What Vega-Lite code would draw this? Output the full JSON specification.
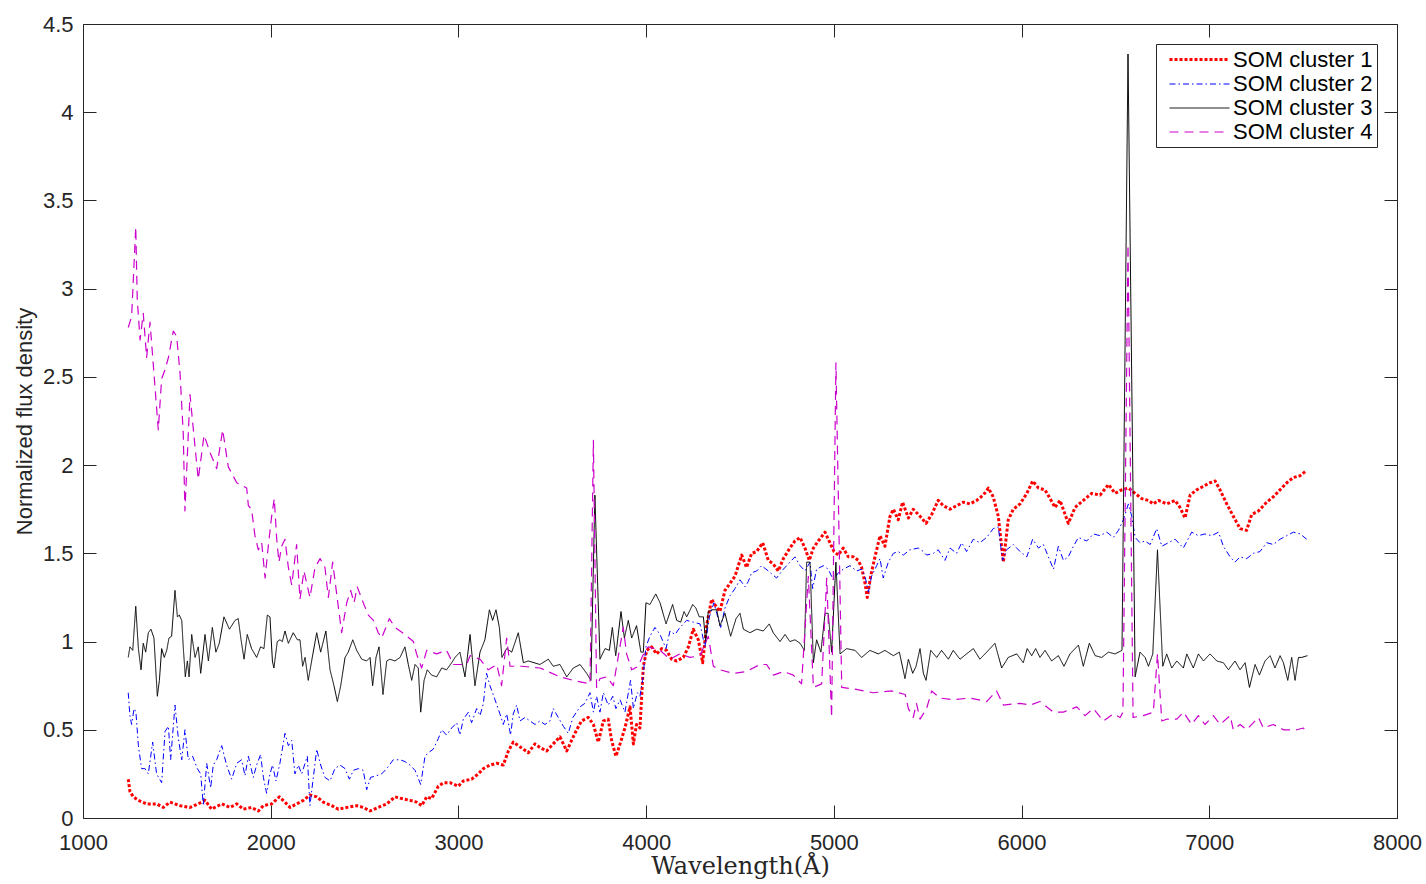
{
"$schema":"https://vega.github.io/schema/vega-lite/v6.json",
"width":1314,"height":794,
"autosize":{"type":"none"},
"padding":{"left":83,"top":24,"right":29,"bottom":66},
"background":"white",
"config":{
 "view":{"stroke":null},
 "axis":{"grid":false,"domainColor":"#262626","tickColor":"#262626","labelColor":"#262626","labelFont":"Liberation Sans","labelFontSize":22,"titleColor":"#262626","titleFontWeight":"normal","labelFlush":false,"tickSize":-13,"domainWidth":1,"tickWidth":1},
 "legend":{"orient":"top-right","offset":20,"padding":4,"strokeColor":"#262626","fillColor":"white","labelFont":"Liberation Sans","labelFontSize":22,"labelColor":"black","symbolType":"M-3,0H3","symbolSize":400,"symbolOffset":28,"labelOffset":22,"rowPadding":2,"labelLimit":300}
},
"data":{"values":[
{"s":"SOM cluster 1","w":1241,"f":0.22},{"s":"SOM cluster 1","w":1250,"f":0.15},{"s":"SOM cluster 1","w":1268,"f":0.12},{"s":"SOM cluster 1","w":1295,"f":0.1},{"s":"SOM cluster 1","w":1339,"f":0.08},{"s":"SOM cluster 1","w":1392,"f":0.08},{"s":"SOM cluster 1","w":1428,"f":0.06},{"s":"SOM cluster 1","w":1463,"f":0.09},{"s":"SOM cluster 1","w":1517,"f":0.07},{"s":"SOM cluster 1","w":1570,"f":0.06},{"s":"SOM cluster 1","w":1614,"f":0.08},{"s":"SOM cluster 1","w":1650,"f":0.1},{"s":"SOM cluster 1","w":1685,"f":0.05},{"s":"SOM cluster 1","w":1739,"f":0.08},{"s":"SOM cluster 1","w":1783,"f":0.06},{"s":"SOM cluster 1","w":1819,"f":0.08},{"s":"SOM cluster 1","w":1854,"f":0.05},{"s":"SOM cluster 1","w":1898,"f":0.06},{"s":"SOM cluster 1","w":1934,"f":0.04},{"s":"SOM cluster 1","w":1961,"f":0.07},{"s":"SOM cluster 1","w":2005,"f":0.08},{"s":"SOM cluster 1","w":2046,"f":0.12},{"s":"SOM cluster 1","w":2076,"f":0.09},{"s":"SOM cluster 1","w":2103,"f":0.06},{"s":"SOM cluster 1","w":2138,"f":0.08},{"s":"SOM cluster 1","w":2174,"f":0.1},{"s":"SOM cluster 1","w":2209,"f":0.13},{"s":"SOM cluster 1","w":2245,"f":0.12},{"s":"SOM cluster 1","w":2280,"f":0.09},{"s":"SOM cluster 1","w":2325,"f":0.07},{"s":"SOM cluster 1","w":2360,"f":0.05},{"s":"SOM cluster 1","w":2405,"f":0.06},{"s":"SOM cluster 1","w":2458,"f":0.07},{"s":"SOM cluster 1","w":2493,"f":0.06},{"s":"SOM cluster 1","w":2529,"f":0.04},{"s":"SOM cluster 1","w":2573,"f":0.06},{"s":"SOM cluster 1","w":2618,"f":0.08},{"s":"SOM cluster 1","w":2662,"f":0.12},{"s":"SOM cluster 1","w":2698,"f":0.11},{"s":"SOM cluster 1","w":2742,"f":0.1},{"s":"SOM cluster 1","w":2777,"f":0.09},{"s":"SOM cluster 1","w":2804,"f":0.07},{"s":"SOM cluster 1","w":2831,"f":0.12},{"s":"SOM cluster 1","w":2857,"f":0.11},{"s":"SOM cluster 1","w":2893,"f":0.18},{"s":"SOM cluster 1","w":2920,"f":0.2},{"s":"SOM cluster 1","w":2955,"f":0.2},{"s":"SOM cluster 1","w":2999,"f":0.18},{"s":"SOM cluster 1","w":3026,"f":0.21},{"s":"SOM cluster 1","w":3070,"f":0.22},{"s":"SOM cluster 1","w":3106,"f":0.25},{"s":"SOM cluster 1","w":3133,"f":0.28},{"s":"SOM cluster 1","w":3168,"f":0.3},{"s":"SOM cluster 1","w":3204,"f":0.31},{"s":"SOM cluster 1","w":3239,"f":0.3},{"s":"SOM cluster 1","w":3266,"f":0.38},{"s":"SOM cluster 1","w":3292,"f":0.43},{"s":"SOM cluster 1","w":3319,"f":0.41},{"s":"SOM cluster 1","w":3346,"f":0.39},{"s":"SOM cluster 1","w":3372,"f":0.37},{"s":"SOM cluster 1","w":3408,"f":0.42},{"s":"SOM cluster 1","w":3434,"f":0.4},{"s":"SOM cluster 1","w":3470,"f":0.38},{"s":"SOM cluster 1","w":3505,"f":0.42},{"s":"SOM cluster 1","w":3541,"f":0.46},{"s":"SOM cluster 1","w":3577,"f":0.38},{"s":"SOM cluster 1","w":3603,"f":0.44},{"s":"SOM cluster 1","w":3630,"f":0.5},{"s":"SOM cluster 1","w":3656,"f":0.55},{"s":"SOM cluster 1","w":3692,"f":0.57},{"s":"SOM cluster 1","w":3719,"f":0.53},{"s":"SOM cluster 1","w":3745,"f":0.43},{"s":"SOM cluster 1","w":3772,"f":0.55},{"s":"SOM cluster 1","w":3798,"f":0.56},{"s":"SOM cluster 1","w":3816,"f":0.44},{"s":"SOM cluster 1","w":3839,"f":0.35},{"s":"SOM cluster 1","w":3861,"f":0.42},{"s":"SOM cluster 1","w":3887,"f":0.51},{"s":"SOM cluster 1","w":3914,"f":0.63},{"s":"SOM cluster 1","w":3932,"f":0.42},{"s":"SOM cluster 1","w":3949,"f":0.53},{"s":"SOM cluster 1","w":3967,"f":0.51},{"s":"SOM cluster 1","w":3985,"f":0.86},{"s":"SOM cluster 1","w":4003,"f":0.95},{"s":"SOM cluster 1","w":4029,"f":0.97},{"s":"SOM cluster 1","w":4056,"f":0.93},{"s":"SOM cluster 1","w":4083,"f":0.96},{"s":"SOM cluster 1","w":4109,"f":0.95},{"s":"SOM cluster 1","w":4136,"f":0.9},{"s":"SOM cluster 1","w":4163,"f":0.89},{"s":"SOM cluster 1","w":4198,"f":0.91},{"s":"SOM cluster 1","w":4225,"f":0.97},{"s":"SOM cluster 1","w":4251,"f":1.07},{"s":"SOM cluster 1","w":4278,"f":1.01},{"s":"SOM cluster 1","w":4301,"f":0.88},{"s":"SOM cluster 1","w":4322,"f":1.09},{"s":"SOM cluster 1","w":4349,"f":1.24},{"s":"SOM cluster 1","w":4372,"f":1.2},{"s":"SOM cluster 1","w":4393,"f":1.17},{"s":"SOM cluster 1","w":4420,"f":1.29},{"s":"SOM cluster 1","w":4447,"f":1.33},{"s":"SOM cluster 1","w":4473,"f":1.37},{"s":"SOM cluster 1","w":4509,"f":1.49},{"s":"SOM cluster 1","w":4535,"f":1.42},{"s":"SOM cluster 1","w":4562,"f":1.5},{"s":"SOM cluster 1","w":4589,"f":1.51},{"s":"SOM cluster 1","w":4621,"f":1.56},{"s":"SOM cluster 1","w":4651,"f":1.46},{"s":"SOM cluster 1","w":4677,"f":1.44},{"s":"SOM cluster 1","w":4704,"f":1.4},{"s":"SOM cluster 1","w":4731,"f":1.47},{"s":"SOM cluster 1","w":4766,"f":1.53},{"s":"SOM cluster 1","w":4793,"f":1.57},{"s":"SOM cluster 1","w":4820,"f":1.59},{"s":"SOM cluster 1","w":4846,"f":1.53},{"s":"SOM cluster 1","w":4869,"f":1.46},{"s":"SOM cluster 1","w":4891,"f":1.53},{"s":"SOM cluster 1","w":4917,"f":1.57},{"s":"SOM cluster 1","w":4953,"f":1.62},{"s":"SOM cluster 1","w":4979,"f":1.56},{"s":"SOM cluster 1","w":5001,"f":1.51},{"s":"SOM cluster 1","w":5024,"f":1.49},{"s":"SOM cluster 1","w":5050,"f":1.53},{"s":"SOM cluster 1","w":5077,"f":1.48},{"s":"SOM cluster 1","w":5104,"f":1.48},{"s":"SOM cluster 1","w":5130,"f":1.46},{"s":"SOM cluster 1","w":5148,"f":1.42},{"s":"SOM cluster 1","w":5166,"f":1.33},{"s":"SOM cluster 1","w":5178,"f":1.25},{"s":"SOM cluster 1","w":5196,"f":1.37},{"s":"SOM cluster 1","w":5219,"f":1.48},{"s":"SOM cluster 1","w":5246,"f":1.6},{"s":"SOM cluster 1","w":5272,"f":1.54},{"s":"SOM cluster 1","w":5299,"f":1.71},{"s":"SOM cluster 1","w":5317,"f":1.75},{"s":"SOM cluster 1","w":5343,"f":1.69},{"s":"SOM cluster 1","w":5366,"f":1.79},{"s":"SOM cluster 1","w":5397,"f":1.7},{"s":"SOM cluster 1","w":5423,"f":1.75},{"s":"SOM cluster 1","w":5459,"f":1.71},{"s":"SOM cluster 1","w":5491,"f":1.67},{"s":"SOM cluster 1","w":5521,"f":1.72},{"s":"SOM cluster 1","w":5556,"f":1.8},{"s":"SOM cluster 1","w":5583,"f":1.77},{"s":"SOM cluster 1","w":5619,"f":1.75},{"s":"SOM cluster 1","w":5654,"f":1.77},{"s":"SOM cluster 1","w":5690,"f":1.79},{"s":"SOM cluster 1","w":5725,"f":1.78},{"s":"SOM cluster 1","w":5761,"f":1.8},{"s":"SOM cluster 1","w":5796,"f":1.83},{"s":"SOM cluster 1","w":5823,"f":1.87},{"s":"SOM cluster 1","w":5849,"f":1.82},{"s":"SOM cluster 1","w":5876,"f":1.71},{"s":"SOM cluster 1","w":5903,"f":1.45},{"s":"SOM cluster 1","w":5929,"f":1.69},{"s":"SOM cluster 1","w":5956,"f":1.75},{"s":"SOM cluster 1","w":5992,"f":1.78},{"s":"SOM cluster 1","w":6028,"f":1.84},{"s":"SOM cluster 1","w":6059,"f":1.91},{"s":"SOM cluster 1","w":6090,"f":1.87},{"s":"SOM cluster 1","w":6125,"f":1.86},{"s":"SOM cluster 1","w":6152,"f":1.81},{"s":"SOM cluster 1","w":6178,"f":1.76},{"s":"SOM cluster 1","w":6205,"f":1.8},{"s":"SOM cluster 1","w":6249,"f":1.67},{"s":"SOM cluster 1","w":6285,"f":1.76},{"s":"SOM cluster 1","w":6329,"f":1.8},{"s":"SOM cluster 1","w":6374,"f":1.84},{"s":"SOM cluster 1","w":6418,"f":1.83},{"s":"SOM cluster 1","w":6463,"f":1.89},{"s":"SOM cluster 1","w":6498,"f":1.84},{"s":"SOM cluster 1","w":6534,"f":1.86},{"s":"SOM cluster 1","w":6569,"f":1.87},{"s":"SOM cluster 1","w":6605,"f":1.84},{"s":"SOM cluster 1","w":6640,"f":1.81},{"s":"SOM cluster 1","w":6676,"f":1.8},{"s":"SOM cluster 1","w":6702,"f":1.78},{"s":"SOM cluster 1","w":6729,"f":1.8},{"s":"SOM cluster 1","w":6773,"f":1.78},{"s":"SOM cluster 1","w":6818,"f":1.8},{"s":"SOM cluster 1","w":6844,"f":1.76},{"s":"SOM cluster 1","w":6871,"f":1.7},{"s":"SOM cluster 1","w":6898,"f":1.83},{"s":"SOM cluster 1","w":6933,"f":1.86},{"s":"SOM cluster 1","w":6969,"f":1.88},{"s":"SOM cluster 1","w":7004,"f":1.9},{"s":"SOM cluster 1","w":7031,"f":1.91},{"s":"SOM cluster 1","w":7057,"f":1.86},{"s":"SOM cluster 1","w":7093,"f":1.78},{"s":"SOM cluster 1","w":7128,"f":1.71},{"s":"SOM cluster 1","w":7164,"f":1.64},{"s":"SOM cluster 1","w":7199,"f":1.63},{"s":"SOM cluster 1","w":7226,"f":1.72},{"s":"SOM cluster 1","w":7262,"f":1.74},{"s":"SOM cluster 1","w":7306,"f":1.79},{"s":"SOM cluster 1","w":7341,"f":1.82},{"s":"SOM cluster 1","w":7377,"f":1.86},{"s":"SOM cluster 1","w":7413,"f":1.9},{"s":"SOM cluster 1","w":7448,"f":1.93},{"s":"SOM cluster 1","w":7484,"f":1.94},{"s":"SOM cluster 1","w":7519,"f":1.97},
{"s":"SOM cluster 2","w":1241,"f":0.71},{"s":"SOM cluster 2","w":1250,"f":0.58},{"s":"SOM cluster 2","w":1259,"f":0.53},{"s":"SOM cluster 2","w":1272,"f":0.62},{"s":"SOM cluster 2","w":1282,"f":0.6},{"s":"SOM cluster 2","w":1295,"f":0.41},{"s":"SOM cluster 2","w":1312,"f":0.28},{"s":"SOM cluster 2","w":1330,"f":0.28},{"s":"SOM cluster 2","w":1348,"f":0.25},{"s":"SOM cluster 2","w":1371,"f":0.43},{"s":"SOM cluster 2","w":1392,"f":0.25},{"s":"SOM cluster 2","w":1419,"f":0.2},{"s":"SOM cluster 2","w":1437,"f":0.49},{"s":"SOM cluster 2","w":1455,"f":0.52},{"s":"SOM cluster 2","w":1467,"f":0.33},{"s":"SOM cluster 2","w":1490,"f":0.64},{"s":"SOM cluster 2","w":1508,"f":0.45},{"s":"SOM cluster 2","w":1526,"f":0.33},{"s":"SOM cluster 2","w":1543,"f":0.5},{"s":"SOM cluster 2","w":1561,"f":0.33},{"s":"SOM cluster 2","w":1584,"f":0.35},{"s":"SOM cluster 2","w":1609,"f":0.28},{"s":"SOM cluster 2","w":1627,"f":0.25},{"s":"SOM cluster 2","w":1641,"f":0.07},{"s":"SOM cluster 2","w":1659,"f":0.31},{"s":"SOM cluster 2","w":1680,"f":0.17},{"s":"SOM cluster 2","w":1694,"f":0.3},{"s":"SOM cluster 2","w":1712,"f":0.33},{"s":"SOM cluster 2","w":1739,"f":0.41},{"s":"SOM cluster 2","w":1765,"f":0.3},{"s":"SOM cluster 2","w":1792,"f":0.22},{"s":"SOM cluster 2","w":1819,"f":0.31},{"s":"SOM cluster 2","w":1845,"f":0.33},{"s":"SOM cluster 2","w":1863,"f":0.24},{"s":"SOM cluster 2","w":1881,"f":0.35},{"s":"SOM cluster 2","w":1907,"f":0.23},{"s":"SOM cluster 2","w":1925,"f":0.3},{"s":"SOM cluster 2","w":1946,"f":0.36},{"s":"SOM cluster 2","w":1961,"f":0.23},{"s":"SOM cluster 2","w":1978,"f":0.14},{"s":"SOM cluster 2","w":1996,"f":0.25},{"s":"SOM cluster 2","w":2010,"f":0.3},{"s":"SOM cluster 2","w":2028,"f":0.21},{"s":"SOM cluster 2","w":2049,"f":0.31},{"s":"SOM cluster 2","w":2076,"f":0.48},{"s":"SOM cluster 2","w":2094,"f":0.41},{"s":"SOM cluster 2","w":2112,"f":0.44},{"s":"SOM cluster 2","w":2129,"f":0.25},{"s":"SOM cluster 2","w":2147,"f":0.3},{"s":"SOM cluster 2","w":2165,"f":0.25},{"s":"SOM cluster 2","w":2183,"f":0.31},{"s":"SOM cluster 2","w":2195,"f":0.35},{"s":"SOM cluster 2","w":2209,"f":0.07},{"s":"SOM cluster 2","w":2227,"f":0.23},{"s":"SOM cluster 2","w":2245,"f":0.39},{"s":"SOM cluster 2","w":2263,"f":0.31},{"s":"SOM cluster 2","w":2289,"f":0.23},{"s":"SOM cluster 2","w":2316,"f":0.21},{"s":"SOM cluster 2","w":2342,"f":0.28},{"s":"SOM cluster 2","w":2369,"f":0.3},{"s":"SOM cluster 2","w":2396,"f":0.28},{"s":"SOM cluster 2","w":2419,"f":0.22},{"s":"SOM cluster 2","w":2440,"f":0.27},{"s":"SOM cluster 2","w":2467,"f":0.28},{"s":"SOM cluster 2","w":2493,"f":0.27},{"s":"SOM cluster 2","w":2511,"f":0.16},{"s":"SOM cluster 2","w":2532,"f":0.23},{"s":"SOM cluster 2","w":2564,"f":0.24},{"s":"SOM cluster 2","w":2591,"f":0.25},{"s":"SOM cluster 2","w":2618,"f":0.28},{"s":"SOM cluster 2","w":2653,"f":0.33},{"s":"SOM cluster 2","w":2689,"f":0.33},{"s":"SOM cluster 2","w":2715,"f":0.32},{"s":"SOM cluster 2","w":2742,"f":0.3},{"s":"SOM cluster 2","w":2769,"f":0.27},{"s":"SOM cluster 2","w":2799,"f":0.19},{"s":"SOM cluster 2","w":2822,"f":0.35},{"s":"SOM cluster 2","w":2840,"f":0.37},{"s":"SOM cluster 2","w":2866,"f":0.39},{"s":"SOM cluster 2","w":2893,"f":0.45},{"s":"SOM cluster 2","w":2911,"f":0.5},{"s":"SOM cluster 2","w":2937,"f":0.47},{"s":"SOM cluster 2","w":2964,"f":0.51},{"s":"SOM cluster 2","w":2991,"f":0.54},{"s":"SOM cluster 2","w":3008,"f":0.47},{"s":"SOM cluster 2","w":3026,"f":0.56},{"s":"SOM cluster 2","w":3053,"f":0.6},{"s":"SOM cluster 2","w":3070,"f":0.54},{"s":"SOM cluster 2","w":3097,"f":0.62},{"s":"SOM cluster 2","w":3115,"f":0.58},{"s":"SOM cluster 2","w":3133,"f":0.65},{"s":"SOM cluster 2","w":3150,"f":0.82},{"s":"SOM cluster 2","w":3168,"f":0.75},{"s":"SOM cluster 2","w":3195,"f":0.67},{"s":"SOM cluster 2","w":3221,"f":0.59},{"s":"SOM cluster 2","w":3239,"f":0.53},{"s":"SOM cluster 2","w":3257,"f":0.59},{"s":"SOM cluster 2","w":3278,"f":0.47},{"s":"SOM cluster 2","w":3292,"f":0.59},{"s":"SOM cluster 2","w":3310,"f":0.64},{"s":"SOM cluster 2","w":3328,"f":0.55},{"s":"SOM cluster 2","w":3355,"f":0.57},{"s":"SOM cluster 2","w":3381,"f":0.55},{"s":"SOM cluster 2","w":3408,"f":0.53},{"s":"SOM cluster 2","w":3434,"f":0.55},{"s":"SOM cluster 2","w":3461,"f":0.53},{"s":"SOM cluster 2","w":3488,"f":0.55},{"s":"SOM cluster 2","w":3505,"f":0.62},{"s":"SOM cluster 2","w":3532,"f":0.57},{"s":"SOM cluster 2","w":3559,"f":0.52},{"s":"SOM cluster 2","w":3585,"f":0.48},{"s":"SOM cluster 2","w":3610,"f":0.57},{"s":"SOM cluster 2","w":3648,"f":0.63},{"s":"SOM cluster 2","w":3674,"f":0.65},{"s":"SOM cluster 2","w":3701,"f":0.71},{"s":"SOM cluster 2","w":3719,"f":0.6},{"s":"SOM cluster 2","w":3736,"f":0.69},{"s":"SOM cluster 2","w":3754,"f":0.6},{"s":"SOM cluster 2","w":3772,"f":0.71},{"s":"SOM cluster 2","w":3798,"f":0.64},{"s":"SOM cluster 2","w":3822,"f":0.69},{"s":"SOM cluster 2","w":3839,"f":0.62},{"s":"SOM cluster 2","w":3861,"f":0.67},{"s":"SOM cluster 2","w":3887,"f":0.6},{"s":"SOM cluster 2","w":3917,"f":0.78},{"s":"SOM cluster 2","w":3932,"f":0.62},{"s":"SOM cluster 2","w":3953,"f":0.71},{"s":"SOM cluster 2","w":3967,"f":0.69},{"s":"SOM cluster 2","w":3981,"f":0.78},{"s":"SOM cluster 2","w":3999,"f":0.97},{"s":"SOM cluster 2","w":4020,"f":1.03},{"s":"SOM cluster 2","w":4047,"f":1.08},{"s":"SOM cluster 2","w":4074,"f":1.04},{"s":"SOM cluster 2","w":4106,"f":0.96},{"s":"SOM cluster 2","w":4127,"f":1.06},{"s":"SOM cluster 2","w":4154,"f":1.04},{"s":"SOM cluster 2","w":4180,"f":1.08},{"s":"SOM cluster 2","w":4216,"f":1.12},{"s":"SOM cluster 2","w":4251,"f":1.11},{"s":"SOM cluster 2","w":4287,"f":1.1},{"s":"SOM cluster 2","w":4313,"f":0.97},{"s":"SOM cluster 2","w":4337,"f":1.14},{"s":"SOM cluster 2","w":4361,"f":1.22},{"s":"SOM cluster 2","w":4376,"f":1.16},{"s":"SOM cluster 2","w":4397,"f":1.08},{"s":"SOM cluster 2","w":4420,"f":1.19},{"s":"SOM cluster 2","w":4447,"f":1.26},{"s":"SOM cluster 2","w":4473,"f":1.3},{"s":"SOM cluster 2","w":4500,"f":1.35},{"s":"SOM cluster 2","w":4527,"f":1.31},{"s":"SOM cluster 2","w":4544,"f":1.34},{"s":"SOM cluster 2","w":4562,"f":1.39},{"s":"SOM cluster 2","w":4589,"f":1.4},{"s":"SOM cluster 2","w":4615,"f":1.43},{"s":"SOM cluster 2","w":4651,"f":1.4},{"s":"SOM cluster 2","w":4695,"f":1.36},{"s":"SOM cluster 2","w":4731,"f":1.41},{"s":"SOM cluster 2","w":4766,"f":1.45},{"s":"SOM cluster 2","w":4793,"f":1.48},{"s":"SOM cluster 2","w":4820,"f":1.43},{"s":"SOM cluster 2","w":4846,"f":1.4},{"s":"SOM cluster 2","w":4873,"f":1.45},{"s":"SOM cluster 2","w":4887,"f":1.3},{"s":"SOM cluster 2","w":4908,"f":1.41},{"s":"SOM cluster 2","w":4944,"f":1.43},{"s":"SOM cluster 2","w":4970,"f":1.41},{"s":"SOM cluster 2","w":4997,"f":1.35},{"s":"SOM cluster 2","w":5024,"f":1.39},{"s":"SOM cluster 2","w":5050,"f":1.41},{"s":"SOM cluster 2","w":5086,"f":1.43},{"s":"SOM cluster 2","w":5121,"f":1.4},{"s":"SOM cluster 2","w":5148,"f":1.41},{"s":"SOM cluster 2","w":5166,"f":1.37},{"s":"SOM cluster 2","w":5184,"f":1.28},{"s":"SOM cluster 2","w":5201,"f":1.37},{"s":"SOM cluster 2","w":5228,"f":1.43},{"s":"SOM cluster 2","w":5246,"f":1.47},{"s":"SOM cluster 2","w":5263,"f":1.36},{"s":"SOM cluster 2","w":5290,"f":1.45},{"s":"SOM cluster 2","w":5317,"f":1.5},{"s":"SOM cluster 2","w":5343,"f":1.51},{"s":"SOM cluster 2","w":5370,"f":1.49},{"s":"SOM cluster 2","w":5405,"f":1.52},{"s":"SOM cluster 2","w":5450,"f":1.53},{"s":"SOM cluster 2","w":5477,"f":1.51},{"s":"SOM cluster 2","w":5494,"f":1.49},{"s":"SOM cluster 2","w":5530,"f":1.5},{"s":"SOM cluster 2","w":5556,"f":1.52},{"s":"SOM cluster 2","w":5592,"f":1.46},{"s":"SOM cluster 2","w":5619,"f":1.53},{"s":"SOM cluster 2","w":5654,"f":1.5},{"s":"SOM cluster 2","w":5681,"f":1.56},{"s":"SOM cluster 2","w":5707,"f":1.51},{"s":"SOM cluster 2","w":5743,"f":1.58},{"s":"SOM cluster 2","w":5778,"f":1.56},{"s":"SOM cluster 2","w":5814,"f":1.59},{"s":"SOM cluster 2","w":5849,"f":1.64},{"s":"SOM cluster 2","w":5876,"f":1.65},{"s":"SOM cluster 2","w":5899,"f":1.46},{"s":"SOM cluster 2","w":5920,"f":1.52},{"s":"SOM cluster 2","w":5956,"f":1.55},{"s":"SOM cluster 2","w":5992,"f":1.51},{"s":"SOM cluster 2","w":6028,"f":1.48},{"s":"SOM cluster 2","w":6059,"f":1.58},{"s":"SOM cluster 2","w":6090,"f":1.53},{"s":"SOM cluster 2","w":6116,"f":1.55},{"s":"SOM cluster 2","w":6143,"f":1.48},{"s":"SOM cluster 2","w":6170,"f":1.41},{"s":"SOM cluster 2","w":6196,"f":1.54},{"s":"SOM cluster 2","w":6223,"f":1.46},{"s":"SOM cluster 2","w":6249,"f":1.48},{"s":"SOM cluster 2","w":6276,"f":1.54},{"s":"SOM cluster 2","w":6303,"f":1.59},{"s":"SOM cluster 2","w":6347,"f":1.57},{"s":"SOM cluster 2","w":6383,"f":1.61},{"s":"SOM cluster 2","w":6418,"f":1.6},{"s":"SOM cluster 2","w":6454,"f":1.62},{"s":"SOM cluster 2","w":6489,"f":1.59},{"s":"SOM cluster 2","w":6516,"f":1.63},{"s":"SOM cluster 2","w":6542,"f":1.69},{"s":"SOM cluster 2","w":6569,"f":1.78},{"s":"SOM cluster 2","w":6587,"f":1.71},{"s":"SOM cluster 2","w":6605,"f":1.59},{"s":"SOM cluster 2","w":6631,"f":1.56},{"s":"SOM cluster 2","w":6658,"f":1.57},{"s":"SOM cluster 2","w":6685,"f":1.55},{"s":"SOM cluster 2","w":6720,"f":1.64},{"s":"SOM cluster 2","w":6747,"f":1.54},{"s":"SOM cluster 2","w":6782,"f":1.56},{"s":"SOM cluster 2","w":6818,"f":1.58},{"s":"SOM cluster 2","w":6862,"f":1.53},{"s":"SOM cluster 2","w":6906,"f":1.62},{"s":"SOM cluster 2","w":6942,"f":1.6},{"s":"SOM cluster 2","w":6977,"f":1.61},{"s":"SOM cluster 2","w":7013,"f":1.6},{"s":"SOM cluster 2","w":7049,"f":1.62},{"s":"SOM cluster 2","w":7075,"f":1.54},{"s":"SOM cluster 2","w":7111,"f":1.48},{"s":"SOM cluster 2","w":7137,"f":1.45},{"s":"SOM cluster 2","w":7164,"f":1.48},{"s":"SOM cluster 2","w":7199,"f":1.47},{"s":"SOM cluster 2","w":7235,"f":1.5},{"s":"SOM cluster 2","w":7270,"f":1.51},{"s":"SOM cluster 2","w":7306,"f":1.56},{"s":"SOM cluster 2","w":7341,"f":1.55},{"s":"SOM cluster 2","w":7377,"f":1.58},{"s":"SOM cluster 2","w":7413,"f":1.6},{"s":"SOM cluster 2","w":7448,"f":1.62},{"s":"SOM cluster 2","w":7484,"f":1.61},{"s":"SOM cluster 2","w":7519,"f":1.58},
{"s":"SOM cluster 3","w":1241,"f":0.91},{"s":"SOM cluster 3","w":1250,"f":0.97},{"s":"SOM cluster 3","w":1265,"f":0.95},{"s":"SOM cluster 3","w":1281,"f":1.2},{"s":"SOM cluster 3","w":1295,"f":0.96},{"s":"SOM cluster 3","w":1309,"f":0.84},{"s":"SOM cluster 3","w":1321,"f":0.99},{"s":"SOM cluster 3","w":1334,"f":0.94},{"s":"SOM cluster 3","w":1348,"f":1.05},{"s":"SOM cluster 3","w":1362,"f":1.07},{"s":"SOM cluster 3","w":1378,"f":1.02},{"s":"SOM cluster 3","w":1396,"f":0.69},{"s":"SOM cluster 3","w":1407,"f":0.78},{"s":"SOM cluster 3","w":1419,"f":0.96},{"s":"SOM cluster 3","w":1433,"f":0.91},{"s":"SOM cluster 3","w":1446,"f":0.95},{"s":"SOM cluster 3","w":1458,"f":1.02},{"s":"SOM cluster 3","w":1472,"f":1.03},{"s":"SOM cluster 3","w":1490,"f":1.29},{"s":"SOM cluster 3","w":1503,"f":1.14},{"s":"SOM cluster 3","w":1513,"f":1.15},{"s":"SOM cluster 3","w":1526,"f":1.12},{"s":"SOM cluster 3","w":1534,"f":0.97},{"s":"SOM cluster 3","w":1545,"f":0.8},{"s":"SOM cluster 3","w":1556,"f":0.89},{"s":"SOM cluster 3","w":1565,"f":0.8},{"s":"SOM cluster 3","w":1579,"f":1.04},{"s":"SOM cluster 3","w":1597,"f":0.91},{"s":"SOM cluster 3","w":1614,"f":0.97},{"s":"SOM cluster 3","w":1627,"f":0.82},{"s":"SOM cluster 3","w":1650,"f":1.04},{"s":"SOM cluster 3","w":1668,"f":0.89},{"s":"SOM cluster 3","w":1689,"f":1.08},{"s":"SOM cluster 3","w":1708,"f":0.94},{"s":"SOM cluster 3","w":1726,"f":0.99},{"s":"SOM cluster 3","w":1751,"f":1.14},{"s":"SOM cluster 3","w":1780,"f":1.07},{"s":"SOM cluster 3","w":1810,"f":1.12},{"s":"SOM cluster 3","w":1827,"f":1.13},{"s":"SOM cluster 3","w":1842,"f":1.01},{"s":"SOM cluster 3","w":1858,"f":0.9},{"s":"SOM cluster 3","w":1875,"f":1.04},{"s":"SOM cluster 3","w":1898,"f":0.96},{"s":"SOM cluster 3","w":1925,"f":0.91},{"s":"SOM cluster 3","w":1946,"f":0.97},{"s":"SOM cluster 3","w":1964,"f":0.96},{"s":"SOM cluster 3","w":1982,"f":1.15},{"s":"SOM cluster 3","w":1996,"f":1.14},{"s":"SOM cluster 3","w":2009,"f":0.89},{"s":"SOM cluster 3","w":2017,"f":0.85},{"s":"SOM cluster 3","w":2035,"f":1.0},{"s":"SOM cluster 3","w":2049,"f":1.01},{"s":"SOM cluster 3","w":2062,"f":1.0},{"s":"SOM cluster 3","w":2076,"f":1.06},{"s":"SOM cluster 3","w":2094,"f":0.99},{"s":"SOM cluster 3","w":2120,"f":1.05},{"s":"SOM cluster 3","w":2142,"f":1.01},{"s":"SOM cluster 3","w":2156,"f":1.01},{"s":"SOM cluster 3","w":2170,"f":0.86},{"s":"SOM cluster 3","w":2183,"f":0.91},{"s":"SOM cluster 3","w":2200,"f":0.78},{"s":"SOM cluster 3","w":2218,"f":0.89},{"s":"SOM cluster 3","w":2245,"f":1.05},{"s":"SOM cluster 3","w":2266,"f":0.94},{"s":"SOM cluster 3","w":2294,"f":1.06},{"s":"SOM cluster 3","w":2316,"f":0.84},{"s":"SOM cluster 3","w":2337,"f":0.75},{"s":"SOM cluster 3","w":2355,"f":0.66},{"s":"SOM cluster 3","w":2373,"f":0.75},{"s":"SOM cluster 3","w":2396,"f":0.91},{"s":"SOM cluster 3","w":2413,"f":0.94},{"s":"SOM cluster 3","w":2437,"f":1.01},{"s":"SOM cluster 3","w":2458,"f":0.95},{"s":"SOM cluster 3","w":2485,"f":0.9},{"s":"SOM cluster 3","w":2511,"f":0.89},{"s":"SOM cluster 3","w":2529,"f":0.91},{"s":"SOM cluster 3","w":2543,"f":0.75},{"s":"SOM cluster 3","w":2561,"f":0.91},{"s":"SOM cluster 3","w":2577,"f":0.97},{"s":"SOM cluster 3","w":2598,"f":0.7},{"s":"SOM cluster 3","w":2618,"f":0.89},{"s":"SOM cluster 3","w":2635,"f":0.9},{"s":"SOM cluster 3","w":2662,"f":0.89},{"s":"SOM cluster 3","w":2689,"f":0.91},{"s":"SOM cluster 3","w":2715,"f":0.97},{"s":"SOM cluster 3","w":2733,"f":0.87},{"s":"SOM cluster 3","w":2751,"f":0.78},{"s":"SOM cluster 3","w":2769,"f":0.87},{"s":"SOM cluster 3","w":2786,"f":0.85},{"s":"SOM cluster 3","w":2799,"f":0.6},{"s":"SOM cluster 3","w":2817,"f":0.78},{"s":"SOM cluster 3","w":2834,"f":0.84},{"s":"SOM cluster 3","w":2857,"f":0.81},{"s":"SOM cluster 3","w":2884,"f":0.8},{"s":"SOM cluster 3","w":2911,"f":0.85},{"s":"SOM cluster 3","w":2937,"f":0.84},{"s":"SOM cluster 3","w":2964,"f":0.88},{"s":"SOM cluster 3","w":2982,"f":0.91},{"s":"SOM cluster 3","w":3008,"f":0.94},{"s":"SOM cluster 3","w":3035,"f":0.8},{"s":"SOM cluster 3","w":3062,"f":1.04},{"s":"SOM cluster 3","w":3088,"f":0.75},{"s":"SOM cluster 3","w":3115,"f":0.94},{"s":"SOM cluster 3","w":3141,"f":1.01},{"s":"SOM cluster 3","w":3165,"f":1.18},{"s":"SOM cluster 3","w":3182,"f":1.12},{"s":"SOM cluster 3","w":3200,"f":1.18},{"s":"SOM cluster 3","w":3218,"f":1.08},{"s":"SOM cluster 3","w":3232,"f":0.91},{"s":"SOM cluster 3","w":3257,"f":0.96},{"s":"SOM cluster 3","w":3284,"f":0.94},{"s":"SOM cluster 3","w":3319,"f":1.05},{"s":"SOM cluster 3","w":3346,"f":0.88},{"s":"SOM cluster 3","w":3372,"f":0.89},{"s":"SOM cluster 3","w":3434,"f":0.87},{"s":"SOM cluster 3","w":3479,"f":0.9},{"s":"SOM cluster 3","w":3505,"f":0.86},{"s":"SOM cluster 3","w":3541,"f":0.87},{"s":"SOM cluster 3","w":3577,"f":0.8},{"s":"SOM cluster 3","w":3612,"f":0.85},{"s":"SOM cluster 3","w":3648,"f":0.87},{"s":"SOM cluster 3","w":3683,"f":0.82},{"s":"SOM cluster 3","w":3706,"f":0.78},{"s":"SOM cluster 3","w":3727,"f":1.83},{"s":"SOM cluster 3","w":3754,"f":0.9},{"s":"SOM cluster 3","w":3781,"f":0.96},{"s":"SOM cluster 3","w":3804,"f":0.95},{"s":"SOM cluster 3","w":3820,"f":1.08},{"s":"SOM cluster 3","w":3838,"f":0.92},{"s":"SOM cluster 3","w":3866,"f":1.17},{"s":"SOM cluster 3","w":3884,"f":1.02},{"s":"SOM cluster 3","w":3905,"f":1.12},{"s":"SOM cluster 3","w":3923,"f":1.02},{"s":"SOM cluster 3","w":3949,"f":1.09},{"s":"SOM cluster 3","w":3972,"f":0.94},{"s":"SOM cluster 3","w":3985,"f":0.94},{"s":"SOM cluster 3","w":3999,"f":1.22},{"s":"SOM cluster 3","w":4020,"f":1.21},{"s":"SOM cluster 3","w":4051,"f":1.27},{"s":"SOM cluster 3","w":4074,"f":1.22},{"s":"SOM cluster 3","w":4106,"f":1.1},{"s":"SOM cluster 3","w":4141,"f":1.21},{"s":"SOM cluster 3","w":4163,"f":1.12},{"s":"SOM cluster 3","w":4184,"f":1.11},{"s":"SOM cluster 3","w":4202,"f":1.17},{"s":"SOM cluster 3","w":4216,"f":1.14},{"s":"SOM cluster 3","w":4230,"f":1.17},{"s":"SOM cluster 3","w":4248,"f":1.21},{"s":"SOM cluster 3","w":4265,"f":1.19},{"s":"SOM cluster 3","w":4283,"f":1.14},{"s":"SOM cluster 3","w":4305,"f":1.14},{"s":"SOM cluster 3","w":4317,"f":1.0},{"s":"SOM cluster 3","w":4331,"f":1.17},{"s":"SOM cluster 3","w":4349,"f":1.18},{"s":"SOM cluster 3","w":4376,"f":1.18},{"s":"SOM cluster 3","w":4393,"f":1.09},{"s":"SOM cluster 3","w":4420,"f":1.16},{"s":"SOM cluster 3","w":4450,"f":1.03},{"s":"SOM cluster 3","w":4479,"f":1.13},{"s":"SOM cluster 3","w":4500,"f":1.16},{"s":"SOM cluster 3","w":4518,"f":1.07},{"s":"SOM cluster 3","w":4553,"f":1.05},{"s":"SOM cluster 3","w":4589,"f":1.07},{"s":"SOM cluster 3","w":4624,"f":1.06},{"s":"SOM cluster 3","w":4656,"f":1.1},{"s":"SOM cluster 3","w":4677,"f":1.05},{"s":"SOM cluster 3","w":4713,"f":1.0},{"s":"SOM cluster 3","w":4740,"f":1.04},{"s":"SOM cluster 3","w":4766,"f":1.0},{"s":"SOM cluster 3","w":4793,"f":1.01},{"s":"SOM cluster 3","w":4820,"f":0.99},{"s":"SOM cluster 3","w":4843,"f":0.95},{"s":"SOM cluster 3","w":4855,"f":1.45},{"s":"SOM cluster 3","w":4873,"f":1.45},{"s":"SOM cluster 3","w":4891,"f":0.88},{"s":"SOM cluster 3","w":4908,"f":1.01},{"s":"SOM cluster 3","w":4931,"f":0.94},{"s":"SOM cluster 3","w":4953,"f":1.16},{"s":"SOM cluster 3","w":4970,"f":1.16},{"s":"SOM cluster 3","w":4988,"f":0.94},{"s":"SOM cluster 3","w":5011,"f":1.45},{"s":"SOM cluster 3","w":5033,"f":0.93},{"s":"SOM cluster 3","w":5068,"f":0.96},{"s":"SOM cluster 3","w":5113,"f":0.95},{"s":"SOM cluster 3","w":5148,"f":0.91},{"s":"SOM cluster 3","w":5192,"f":0.95},{"s":"SOM cluster 3","w":5237,"f":0.93},{"s":"SOM cluster 3","w":5272,"f":0.95},{"s":"SOM cluster 3","w":5317,"f":0.92},{"s":"SOM cluster 3","w":5349,"f":0.94},{"s":"SOM cluster 3","w":5379,"f":0.79},{"s":"SOM cluster 3","w":5397,"f":0.9},{"s":"SOM cluster 3","w":5420,"f":0.82},{"s":"SOM cluster 3","w":5438,"f":0.86},{"s":"SOM cluster 3","w":5459,"f":0.96},{"s":"SOM cluster 3","w":5477,"f":0.82},{"s":"SOM cluster 3","w":5491,"f":0.78},{"s":"SOM cluster 3","w":5516,"f":0.95},{"s":"SOM cluster 3","w":5548,"f":0.91},{"s":"SOM cluster 3","w":5574,"f":0.95},{"s":"SOM cluster 3","w":5610,"f":0.9},{"s":"SOM cluster 3","w":5636,"f":0.95},{"s":"SOM cluster 3","w":5672,"f":0.9},{"s":"SOM cluster 3","w":5707,"f":0.93},{"s":"SOM cluster 3","w":5743,"f":0.96},{"s":"SOM cluster 3","w":5778,"f":0.9},{"s":"SOM cluster 3","w":5823,"f":0.95},{"s":"SOM cluster 3","w":5858,"f":0.99},{"s":"SOM cluster 3","w":5894,"f":0.85},{"s":"SOM cluster 3","w":5929,"f":0.91},{"s":"SOM cluster 3","w":5974,"f":0.93},{"s":"SOM cluster 3","w":6009,"f":0.88},{"s":"SOM cluster 3","w":6030,"f":0.96},{"s":"SOM cluster 3","w":6054,"f":0.92},{"s":"SOM cluster 3","w":6075,"f":0.96},{"s":"SOM cluster 3","w":6098,"f":0.91},{"s":"SOM cluster 3","w":6125,"f":0.95},{"s":"SOM cluster 3","w":6160,"f":0.89},{"s":"SOM cluster 3","w":6196,"f":0.92},{"s":"SOM cluster 3","w":6226,"f":0.86},{"s":"SOM cluster 3","w":6258,"f":0.93},{"s":"SOM cluster 3","w":6303,"f":0.98},{"s":"SOM cluster 3","w":6329,"f":0.86},{"s":"SOM cluster 3","w":6361,"f":0.99},{"s":"SOM cluster 3","w":6392,"f":0.92},{"s":"SOM cluster 3","w":6427,"f":0.91},{"s":"SOM cluster 3","w":6463,"f":0.94},{"s":"SOM cluster 3","w":6498,"f":0.93},{"s":"SOM cluster 3","w":6535,"f":0.95},{"s":"SOM cluster 3","w":6567,"f":4.33},{"s":"SOM cluster 3","w":6605,"f":0.8},{"s":"SOM cluster 3","w":6631,"f":0.94},{"s":"SOM cluster 3","w":6658,"f":0.91},{"s":"SOM cluster 3","w":6676,"f":0.86},{"s":"SOM cluster 3","w":6699,"f":0.93},{"s":"SOM cluster 3","w":6724,"f":1.52},{"s":"SOM cluster 3","w":6752,"f":0.86},{"s":"SOM cluster 3","w":6773,"f":0.93},{"s":"SOM cluster 3","w":6800,"f":0.85},{"s":"SOM cluster 3","w":6827,"f":0.89},{"s":"SOM cluster 3","w":6862,"f":0.85},{"s":"SOM cluster 3","w":6880,"f":0.93},{"s":"SOM cluster 3","w":6915,"f":0.85},{"s":"SOM cluster 3","w":6942,"f":0.93},{"s":"SOM cluster 3","w":6969,"f":0.89},{"s":"SOM cluster 3","w":7004,"f":0.93},{"s":"SOM cluster 3","w":7040,"f":0.89},{"s":"SOM cluster 3","w":7075,"f":0.88},{"s":"SOM cluster 3","w":7102,"f":0.84},{"s":"SOM cluster 3","w":7137,"f":0.89},{"s":"SOM cluster 3","w":7164,"f":0.84},{"s":"SOM cluster 3","w":7191,"f":0.88},{"s":"SOM cluster 3","w":7214,"f":0.74},{"s":"SOM cluster 3","w":7244,"f":0.87},{"s":"SOM cluster 3","w":7267,"f":0.81},{"s":"SOM cluster 3","w":7297,"f":0.89},{"s":"SOM cluster 3","w":7324,"f":0.92},{"s":"SOM cluster 3","w":7350,"f":0.85},{"s":"SOM cluster 3","w":7377,"f":0.92},{"s":"SOM cluster 3","w":7395,"f":0.88},{"s":"SOM cluster 3","w":7418,"f":0.78},{"s":"SOM cluster 3","w":7439,"f":0.91},{"s":"SOM cluster 3","w":7457,"f":0.78},{"s":"SOM cluster 3","w":7475,"f":0.91},{"s":"SOM cluster 3","w":7492,"f":0.91},{"s":"SOM cluster 3","w":7523,"f":0.92},
{"s":"SOM cluster 4","w":1241,"f":2.78},{"s":"SOM cluster 4","w":1259,"f":2.84},{"s":"SOM cluster 4","w":1281,"f":3.35},{"s":"SOM cluster 4","w":1289,"f":2.94},{"s":"SOM cluster 4","w":1304,"f":2.71},{"s":"SOM cluster 4","w":1321,"f":2.86},{"s":"SOM cluster 4","w":1339,"f":2.61},{"s":"SOM cluster 4","w":1357,"f":2.81},{"s":"SOM cluster 4","w":1378,"f":2.52},{"s":"SOM cluster 4","w":1401,"f":2.2},{"s":"SOM cluster 4","w":1419,"f":2.49},{"s":"SOM cluster 4","w":1437,"f":2.54},{"s":"SOM cluster 4","w":1455,"f":2.61},{"s":"SOM cluster 4","w":1481,"f":2.76},{"s":"SOM cluster 4","w":1499,"f":2.73},{"s":"SOM cluster 4","w":1517,"f":2.52},{"s":"SOM cluster 4","w":1534,"f":2.18},{"s":"SOM cluster 4","w":1543,"f":1.74},{"s":"SOM cluster 4","w":1570,"f":2.4},{"s":"SOM cluster 4","w":1588,"f":2.2},{"s":"SOM cluster 4","w":1614,"f":1.92},{"s":"SOM cluster 4","w":1645,"f":2.17},{"s":"SOM cluster 4","w":1677,"f":2.07},{"s":"SOM cluster 4","w":1712,"f":1.98},{"s":"SOM cluster 4","w":1744,"f":2.2},{"s":"SOM cluster 4","w":1774,"f":1.99},{"s":"SOM cluster 4","w":1819,"f":1.9},{"s":"SOM cluster 4","w":1872,"f":1.87},{"s":"SOM cluster 4","w":1881,"f":1.77},{"s":"SOM cluster 4","w":1898,"f":1.75},{"s":"SOM cluster 4","w":1916,"f":1.6},{"s":"SOM cluster 4","w":1934,"f":1.52},{"s":"SOM cluster 4","w":1952,"f":1.56},{"s":"SOM cluster 4","w":1970,"f":1.36},{"s":"SOM cluster 4","w":1987,"f":1.54},{"s":"SOM cluster 4","w":2005,"f":1.71},{"s":"SOM cluster 4","w":2019,"f":1.81},{"s":"SOM cluster 4","w":2032,"f":1.58},{"s":"SOM cluster 4","w":2044,"f":1.45},{"s":"SOM cluster 4","w":2058,"f":1.54},{"s":"SOM cluster 4","w":2076,"f":1.58},{"s":"SOM cluster 4","w":2094,"f":1.42},{"s":"SOM cluster 4","w":2112,"f":1.32},{"s":"SOM cluster 4","w":2138,"f":1.55},{"s":"SOM cluster 4","w":2156,"f":1.24},{"s":"SOM cluster 4","w":2177,"f":1.4},{"s":"SOM cluster 4","w":2209,"f":1.25},{"s":"SOM cluster 4","w":2236,"f":1.42},{"s":"SOM cluster 4","w":2263,"f":1.47},{"s":"SOM cluster 4","w":2289,"f":1.42},{"s":"SOM cluster 4","w":2307,"f":1.25},{"s":"SOM cluster 4","w":2330,"f":1.45},{"s":"SOM cluster 4","w":2355,"f":1.24},{"s":"SOM cluster 4","w":2378,"f":1.05},{"s":"SOM cluster 4","w":2405,"f":1.22},{"s":"SOM cluster 4","w":2426,"f":1.29},{"s":"SOM cluster 4","w":2444,"f":1.22},{"s":"SOM cluster 4","w":2461,"f":1.31},{"s":"SOM cluster 4","w":2493,"f":1.22},{"s":"SOM cluster 4","w":2520,"f":1.15},{"s":"SOM cluster 4","w":2547,"f":1.12},{"s":"SOM cluster 4","w":2573,"f":1.05},{"s":"SOM cluster 4","w":2591,"f":1.02},{"s":"SOM cluster 4","w":2632,"f":1.13},{"s":"SOM cluster 4","w":2662,"f":1.08},{"s":"SOM cluster 4","w":2715,"f":1.04},{"s":"SOM cluster 4","w":2760,"f":1.0},{"s":"SOM cluster 4","w":2777,"f":0.93},{"s":"SOM cluster 4","w":2804,"f":0.85},{"s":"SOM cluster 4","w":2831,"f":0.95},{"s":"SOM cluster 4","w":2884,"f":0.93},{"s":"SOM cluster 4","w":2937,"f":0.95},{"s":"SOM cluster 4","w":2973,"f":0.87},{"s":"SOM cluster 4","w":3044,"f":0.87},{"s":"SOM cluster 4","w":3062,"f":0.92},{"s":"SOM cluster 4","w":3115,"f":0.9},{"s":"SOM cluster 4","w":3159,"f":0.84},{"s":"SOM cluster 4","w":3204,"f":0.87},{"s":"SOM cluster 4","w":3230,"f":0.75},{"s":"SOM cluster 4","w":3257,"f":1.02},{"s":"SOM cluster 4","w":3275,"f":0.86},{"s":"SOM cluster 4","w":3337,"f":0.86},{"s":"SOM cluster 4","w":3435,"f":0.85},{"s":"SOM cluster 4","w":3541,"f":0.8},{"s":"SOM cluster 4","w":3612,"f":0.78},{"s":"SOM cluster 4","w":3701,"f":0.76},{"s":"SOM cluster 4","w":3719,"f":2.14},{"s":"SOM cluster 4","w":3736,"f":0.74},{"s":"SOM cluster 4","w":3754,"f":0.79},{"s":"SOM cluster 4","w":3790,"f":0.8},{"s":"SOM cluster 4","w":3825,"f":0.75},{"s":"SOM cluster 4","w":3878,"f":1.08},{"s":"SOM cluster 4","w":3896,"f":0.93},{"s":"SOM cluster 4","w":3923,"f":0.84},{"s":"SOM cluster 4","w":3958,"f":0.86},{"s":"SOM cluster 4","w":3994,"f":0.95},{"s":"SOM cluster 4","w":4012,"f":0.97},{"s":"SOM cluster 4","w":4074,"f":0.95},{"s":"SOM cluster 4","w":4127,"f":0.9},{"s":"SOM cluster 4","w":4180,"f":0.93},{"s":"SOM cluster 4","w":4234,"f":0.91},{"s":"SOM cluster 4","w":4287,"f":0.92},{"s":"SOM cluster 4","w":4331,"f":1.03},{"s":"SOM cluster 4","w":4358,"f":0.86},{"s":"SOM cluster 4","w":4393,"f":0.84},{"s":"SOM cluster 4","w":4464,"f":0.82},{"s":"SOM cluster 4","w":4535,"f":0.83},{"s":"SOM cluster 4","w":4606,"f":0.87},{"s":"SOM cluster 4","w":4642,"f":0.87},{"s":"SOM cluster 4","w":4678,"f":0.81},{"s":"SOM cluster 4","w":4731,"f":0.83},{"s":"SOM cluster 4","w":4784,"f":0.81},{"s":"SOM cluster 4","w":4828,"f":0.76},{"s":"SOM cluster 4","w":4864,"f":1.37},{"s":"SOM cluster 4","w":4891,"f":0.74},{"s":"SOM cluster 4","w":4935,"f":0.76},{"s":"SOM cluster 4","w":4962,"f":1.36},{"s":"SOM cluster 4","w":4988,"f":0.57},{"s":"SOM cluster 4","w":5011,"f":2.58},{"s":"SOM cluster 4","w":5042,"f":0.74},{"s":"SOM cluster 4","w":5113,"f":0.73},{"s":"SOM cluster 4","w":5210,"f":0.71},{"s":"SOM cluster 4","w":5308,"f":0.72},{"s":"SOM cluster 4","w":5380,"f":0.7},{"s":"SOM cluster 4","w":5397,"f":0.62},{"s":"SOM cluster 4","w":5423,"f":0.57},{"s":"SOM cluster 4","w":5440,"f":0.65},{"s":"SOM cluster 4","w":5459,"f":0.56},{"s":"SOM cluster 4","w":5494,"f":0.62},{"s":"SOM cluster 4","w":5521,"f":0.72},{"s":"SOM cluster 4","w":5565,"f":0.68},{"s":"SOM cluster 4","w":5636,"f":0.67},{"s":"SOM cluster 4","w":5725,"f":0.68},{"s":"SOM cluster 4","w":5814,"f":0.66},{"s":"SOM cluster 4","w":5867,"f":0.72},{"s":"SOM cluster 4","w":5903,"f":0.64},{"s":"SOM cluster 4","w":5992,"f":0.65},{"s":"SOM cluster 4","w":6045,"f":0.64},{"s":"SOM cluster 4","w":6098,"f":0.66},{"s":"SOM cluster 4","w":6169,"f":0.6},{"s":"SOM cluster 4","w":6223,"f":0.6},{"s":"SOM cluster 4","w":6294,"f":0.63},{"s":"SOM cluster 4","w":6338,"f":0.58},{"s":"SOM cluster 4","w":6383,"f":0.62},{"s":"SOM cluster 4","w":6436,"f":0.55},{"s":"SOM cluster 4","w":6489,"f":0.59},{"s":"SOM cluster 4","w":6525,"f":0.57},{"s":"SOM cluster 4","w":6540,"f":0.6},{"s":"SOM cluster 4","w":6567,"f":3.25},{"s":"SOM cluster 4","w":6594,"f":0.57},{"s":"SOM cluster 4","w":6649,"f":0.58},{"s":"SOM cluster 4","w":6702,"f":0.6},{"s":"SOM cluster 4","w":6724,"f":0.93},{"s":"SOM cluster 4","w":6747,"f":0.55},{"s":"SOM cluster 4","w":6773,"f":0.56},{"s":"SOM cluster 4","w":6827,"f":0.56},{"s":"SOM cluster 4","w":6862,"f":0.6},{"s":"SOM cluster 4","w":6906,"f":0.53},{"s":"SOM cluster 4","w":6942,"f":0.58},{"s":"SOM cluster 4","w":6977,"f":0.53},{"s":"SOM cluster 4","w":7022,"f":0.58},{"s":"SOM cluster 4","w":7057,"f":0.53},{"s":"SOM cluster 4","w":7111,"f":0.58},{"s":"SOM cluster 4","w":7128,"f":0.5},{"s":"SOM cluster 4","w":7164,"f":0.53},{"s":"SOM cluster 4","w":7199,"f":0.5},{"s":"SOM cluster 4","w":7262,"f":0.57},{"s":"SOM cluster 4","w":7288,"f":0.51},{"s":"SOM cluster 4","w":7341,"f":0.53},{"s":"SOM cluster 4","w":7395,"f":0.5},{"s":"SOM cluster 4","w":7466,"f":0.5},{"s":"SOM cluster 4","w":7501,"f":0.51},{"s":"SOM cluster 4","w":7515,"f":0.49}
]},
"layer":[
{
 "mark":{"type":"line","strokeJoin":"round","clip":true},
 "encoding":{
  "x":{"field":"w","type":"quantitative","scale":{"domain":[1000,8000],"nice":false,"zero":false},
       "axis":{"orient":"bottom","values":[1000,2000,3000,4000,5000,6000,7000,8000],"format":"d","title":"Wavelength(Å)","titleFont":"DejaVu Serif","titleFontSize":24,"labelPadding":27,"titlePadding":1}},
  "y":{"field":"f","type":"quantitative","scale":{"domain":[0,4.5],"nice":false,"zero":false},
       "axis":{"orient":"left","values":[0,0.5,1,1.5,2,2.5,3,3.5,4,4.5],"format":"~g","title":"Normalized flux density","titleFont":"Liberation Sans","titleFontSize":22,"labelPadding":23,"titlePadding":6}},
  "color":{"field":"s","type":"nominal","scale":{"domain":["SOM cluster 1","SOM cluster 2","SOM cluster 3","SOM cluster 4"],"range":["#ff0000","#0000ff","#000000","#cc00cc"]},"legend":{"title":null}},
  "strokeDash":{"field":"s","type":"nominal","scale":{"domain":["SOM cluster 1","SOM cluster 2","SOM cluster 3","SOM cluster 4"],"range":[[3,2],[6,3,1.5,3],[1,0],[9,6]]},"legend":{"title":null}},
  "strokeWidth":{"field":"s","type":"nominal","scale":{"type":"ordinal","domain":["SOM cluster 1","SOM cluster 2","SOM cluster 3","SOM cluster 4"],"range":[3,1,1,1.2]},"legend":{"title":null}}
 }
},
{
 "mark":{"type":"point","opacity":0},
 "encoding":{
  "x":{"field":"w","type":"quantitative","scale":{"domain":[1000,8000],"nice":false,"zero":false},
       "axis":{"orient":"top","values":[1000,2000,3000,4000,5000,6000,7000,8000],"labels":false,"title":null}},
  "y":{"field":"f","type":"quantitative","scale":{"domain":[0,4.5],"nice":false,"zero":false},
       "axis":{"orient":"right","values":[0,0.5,1,1.5,2,2.5,3,3.5,4,4.5],"labels":false,"title":null}}
 }
}
],
"resolve":{"scale":{"x":"independent","y":"independent"},"axis":{"x":"independent","y":"independent"}}
}
